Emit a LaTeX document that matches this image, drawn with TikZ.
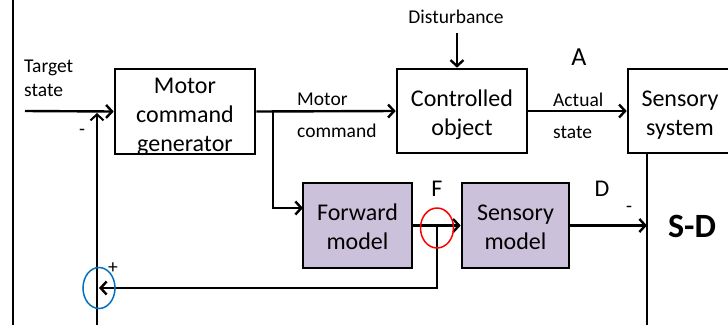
\documentclass[tikz,border=0pt]{standalone}
\usepackage{fontspec}
\setmainfont{Carlito}
\usetikzlibrary{arrows.meta,calc,shapes.geometric}
\definecolor{lav}{HTML}{CCC1DA}
\definecolor{myblue}{HTML}{0070C0}
\definecolor{myred}{HTML}{FF0000}
\begin{document}
\begin{tikzpicture}[x=1pt,y=-1pt,
  box/.style={draw,line width=2.6pt,inner sep=0pt},
  model/.style={box,fill=lav},
  txt/.style={inner sep=0pt,align=center,font=\fontsize{24}{29}\selectfont},
  lbl/.style={inner sep=0pt,font=\fontsize{19.5}{24}\selectfont},
  big/.style={inner sep=0pt,font=\fontsize{24}{28}\selectfont},
  ln/.style={line width=2.4pt},
  arr/.style={ln,-{Straight Barb[length=6pt,width=13pt]}},
  ring/.style={ellipse,draw,line width=1.5pt,inner sep=0pt},
]
\useasboundingbox (0,0) rectangle (728,325);
\clip (0,0) rectangle (728,325);
\fill[white] (0,0) rectangle (728,325);

% boxes
\node[box, minimum width=140, minimum height=85] (mcg) at (185,111.5) {};
\node[box, minimum width=130, minimum height=84] (co) at (462,111) {};
\node[box, minimum width=104, minimum height=84] (ss) at (680,111) {};
\node[model, minimum width=109, minimum height=85] (fm) at (357.5,225.5) {};
\node[model, minimum width=107, minimum height=85] (sm) at (515.5,225.5) {};

% box texts
\node[txt] (mcgt) at ($(mcg.center)+(0,5)$) {Motor\\command\\generator};
\node[txt] (cot) at ($(co.center)+(0,4)$) {Controlled\\object};
\node[txt] (sst) at ($(ss.center)+(0,4)$) {Sensory\\system};
\node[txt] (fmt) at ($(fm.center)+(0,1.5)$) {Forward\\model};
\node[txt] (smt) at ($(sm.center)+(0,1.5)$) {Sensory\\model};

% coordinates
\coordinate (lt) at (13,0);
\coordinate (lb) at (13,325);
\coordinate (tin) at (25,111);
\coordinate (fbbot) at (97,325);
\coordinate (sumtip) at (97,113);
\coordinate (br) at (273,111);
\coordinate (fmin) at (303,208);
\coordinate (dtop) at (457,33);
\coordinate (Fpt) at (437,225.5);
\coordinate (fbtip) at (99,288);
\coordinate (sdr) at (647,225.5);
\coordinate (ssb) at (647,325);

% connectors
\draw[ln] (lt) -- (lb);
\draw[arr] (tin) -- (mcg.west);
\draw[ln,line width=2pt,-{Straight Barb[length=6pt,width=13pt]}] (fbbot) -- (sumtip);
\draw[arr] (mcg.east) -- (co.west);
\draw[arr] (br) |- (fmin);
\draw[arr] (dtop) -- (dtop |- co.north);
\draw[arr] (co.east) -- (ss.west);
\draw[arr] (fm.east) -- (sm.west);
\draw[arr] (Fpt) |- (fbtip);
\draw[arr] (sm.east) -- (sdr);
\draw[ln] (ss.south -| sdr) -- (ssb);

% rings
\node[ring, draw=myred, minimum width=33, minimum height=40] (redring) at (437,228) {};
\node[ring, draw=myblue, minimum width=32, minimum height=41] (bluering) at (99,288) {};

% labels
\node[lbl, align=left, anchor=west] (tgt) at (24,78) {Target\\state};
\node[lbl] (minus1) at (82,132) {-};
\node[lbl, anchor=west] (mclab1) at (297,99) {Motor};
\node[lbl, anchor=west] (mclab2) at (297,131) {command};
\node[lbl] (dist) at (456,17) {Disturbance};
\node[lbl, anchor=west] (aslab1) at (553,100) {Actual};
\node[lbl, anchor=west] (aslab2) at (553,132) {state};
\node[inner sep=0pt,font=\fontsize{26}{30}\selectfont] (Alab) at (579,57) {A};
\node[big] (Flab) at (437,189) {F};
\node[big] (Dlab) at (602,189) {D};
\node[lbl] (minus2) at (629,209) {-};
\node[lbl] (plus) at (113,268) {+};
\node[inner sep=0pt,font=\fontsize{34}{38}\bfseries] (SD) at (692,226) {S-D};
\end{tikzpicture}
\end{document}
